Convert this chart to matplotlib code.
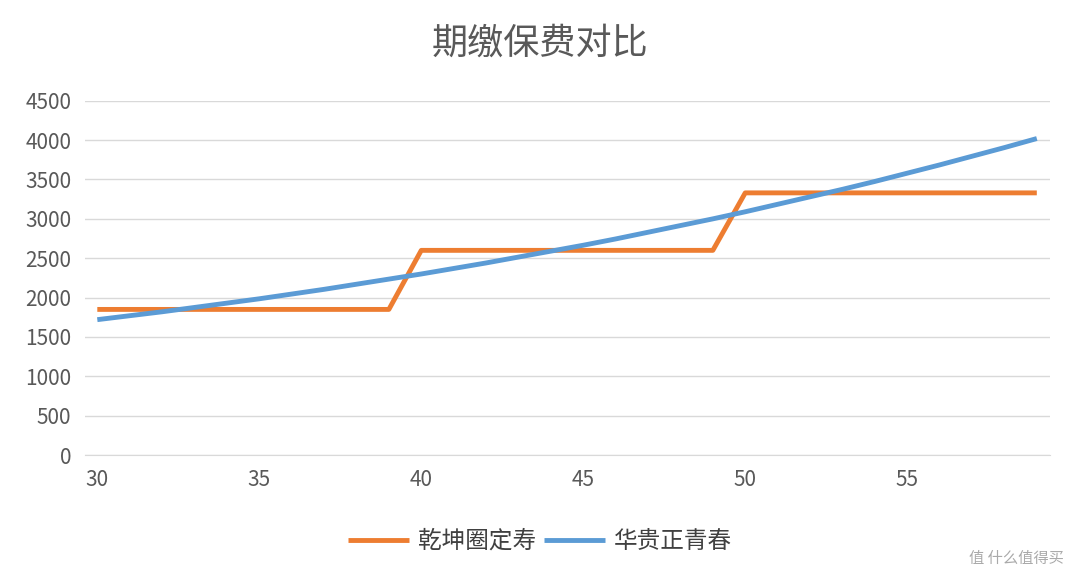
import matplotlib
matplotlib.use("Agg")
import matplotlib.pyplot as plt

plt.rcParams['font.family'] = ['Noto Sans CJK SC', 'DejaVu Sans']

ages = list(range(30, 60))
qiankun = [1850] * 10 + [2600] * 10 + [3330] * 10
huagui = [1720, 1770, 1820, 1875, 1930, 1985, 2045, 2105, 2170, 2235,
          2300, 2370, 2440, 2515, 2590, 2665, 2745, 2830, 2915, 3000,
          3090, 3185, 3280, 3375, 3475, 3580, 3685, 3795, 3905, 4020]
series = [("乾坤圈定寿", qiankun, "#ED7D31"), ("华贵正青春", huagui, "#5B9BD5")]

fig = plt.figure(figsize=(10.8, 5.79), dpi=100)
ax = fig.add_axes([0.079, 0.214, 0.893, 0.612])
for label, vals, color in series:
    ax.plot(ages, vals, color=color, linewidth=3.5, label=label,
            solid_capstyle="butt")

ax.set_xlim(29.63, 59.4)
ax.set_ylim(0, 4500)
ax.set_xticks(range(30, 60, 5))
ax.set_yticks(range(0, 4501, 500))
ax.tick_params(length=0, labelsize=15, colors="#595959", pad=10)
ax.grid(axis="y", color="#D9D9D9", linewidth=1)
ax.set_axisbelow(True)
for s in ["top", "right", "left"]:
    ax.spines[s].set_visible(False)
ax.spines["bottom"].set_color("#D9D9D9")

fig.text(0.5, 0.925, "期缴保费对比", ha="center", va="center",
         fontsize=26, color="#595959")
fig.legend(loc="center", bbox_to_anchor=(0.5, 0.065), ncol=2, frameon=False,
           fontsize=17, handlelength=2.6, columnspacing=0.3, handletextpad=0.4,
           labelcolor="#404040")
fig.text(0.985, 0.035, "值 什么值得买", ha="right", va="center",
         fontsize=11, color="#AAAAAA")
fig.savefig("out.png", dpi=100, facecolor="white")
